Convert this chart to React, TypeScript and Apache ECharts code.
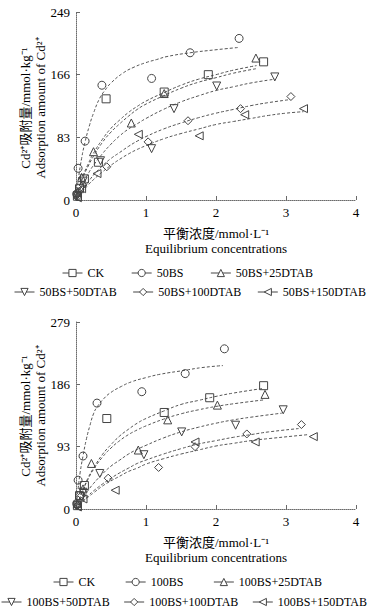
import React, { useEffect, useRef } from 'react';
import * as echarts from 'echarts';

const FONT = '"Liberation Serif", "Times New Roman", "Noto Sans CJK SC", serif';

// axes
const X_MAX = 4;
const X_STEP = 1;
const TOP_Y_MAX = 249;
const TOP_Y_STEP = 83;
const BOT_Y_MAX = 279;
const BOT_Y_STEP = 93;

const xAxisNameCn = '平衡浓度/mmol·L⁻¹';
const xAxisNameEn = 'Equilibrium concentrations';
const yAxisNameCn = 'Cd²⁺吸附量/mmol·kg⁻¹';
const yAxisNameEn = 'Adsorption amount of Cd²⁺';

// series names
const topNames = ['CK', '50BS', '50BS+25DTAB', '50BS+50DTAB', '50BS+100DTAB', '50BS+150DTAB'];
const botNames = ['CK', '100BS', '100BS+25DTAB', '100BS+50DTAB', '100BS+100DTAB', '100BS+150DTAB'];
const symbolTypes = ['rect', 'circle', 'triangle', 'triangle', 'diamond', 'triangle'];
const symbolRotates = [0, 0, 0, 180, 0, 90];

// ---- top chart: measured points [C, q]
const topCK = [[0.02, 5], [0.05, 15], [0.12, 28], [0.32, 50], [0.43, 134], [1.26, 143], [1.89, 166], [2.68, 183]];
const top50BS = [[0.01, 8], [0.03, 42], [0.13, 78], [0.37, 152], [1.08, 161], [1.63, 195], [2.33, 214]];
const top25 = [[0.02, 10], [0.08, 30], [0.25, 64], [0.79, 102], [1.26, 141], [2.57, 188]];
const top50 = [[0.02, 6], [0.1, 25], [0.35, 52], [1.08, 68], [1.4, 121], [2.01, 151], [2.84, 163]];
const top100 = [[0.02, 4], [0.1, 20], [0.44, 44], [1.03, 77], [1.6, 105], [2.35, 121], [3.07, 137]];
const top150 = [[0.02, 3], [0.08, 15], [0.3, 35], [0.89, 87], [1.76, 85], [2.41, 113], [3.25, 121]];

// ---- top chart: fitted curves
const fitTopCK = [[0, 0], [0.05, 18], [0.1, 32], [0.175, 48], [0.25, 62], [0.375, 80], [0.5, 95], [0.625, 106], [0.75, 116], [0.875, 124], [1, 131], [1.25, 142], [1.5, 152], [1.75, 160], [2, 166], [2.25, 172], [2.58, 178]];
const fitTop50BS = [[0, 0], [0.03, 25], [0.08, 55], [0.13, 77], [0.19, 98], [0.25, 115], [0.34, 135], [0.42, 146], [0.5, 155], [0.67, 168], [0.83, 176], [1, 182], [1.15, 186], [1.3, 190], [1.63, 195], [2, 199], [2.32, 202]];
const fitTop25 = [[0, 0], [0.05, 17], [0.1, 30], [0.175, 45], [0.25, 58], [0.375, 76], [0.5, 90], [0.625, 101], [0.75, 111], [0.875, 120], [1, 127], [1.25, 138], [1.5, 148], [1.75, 156], [2, 162], [2.25, 168], [2.58, 174]];
const fitTop50 = [[0, 0], [0.05, 12], [0.1, 22], [0.175, 35], [0.25, 46], [0.375, 61], [0.5, 74], [0.625, 85], [0.75, 94], [0.875, 101], [1, 108], [1.25, 120], [1.5, 130], [1.75, 138], [2, 145], [2.25, 150], [2.5, 155], [2.84, 160]];
const fitTop100 = [[0, 0], [0.05, 8], [0.1, 15], [0.175, 24], [0.25, 33], [0.375, 45], [0.5, 55], [0.625, 63], [0.75, 71], [0.875, 78], [1, 84], [1.25, 94], [1.5, 102], [1.75, 109], [2, 115], [2.25, 120], [2.5, 125], [2.75, 129], [3.06, 133]];
const fitTop150 = [[0, 0], [0.05, 6], [0.1, 12], [0.175, 20], [0.25, 27], [0.375, 37], [0.5, 46], [0.625, 54], [0.75, 61], [0.875, 67], [1, 72], [1.25, 81], [1.5, 88], [1.75, 94], [2, 100], [2.25, 104], [2.5, 108], [2.75, 112], [3, 115], [3.25, 117]];

// ---- bottom chart: measured points
const botCK = [[0.02, 5], [0.05, 20], [0.12, 35], [0.44, 135], [1.26, 144], [1.91, 166], [2.68, 184]];
const bot100BS = [[0.01, 8], [0.03, 43], [0.1, 79], [0.3, 158], [0.94, 175], [1.56, 202], [2.12, 239]];
const bot25 = [[0.02, 8], [0.1, 30], [0.22, 68], [0.89, 88], [1.31, 133], [2.02, 155], [2.7, 171]];
const bot50 = [[0.02, 6], [0.1, 25], [0.34, 53], [0.97, 81], [1.51, 115], [2.28, 125], [2.96, 148]];
const bot100 = [[0.02, 5], [0.08, 20], [0.46, 46], [1.18, 62], [1.7, 93], [2.44, 112], [3.22, 126]];
const bot150 = [[0.02, 3], [0.1, 15], [0.56, 28], [1.7, 100], [2.56, 100], [3.39, 108]];

// ---- bottom chart: fitted curves
const fitBotCK = [[0, 0], [0.05, 16], [0.1, 29], [0.175, 47], [0.25, 61], [0.375, 81], [0.5, 96], [0.625, 109], [0.75, 119], [0.875, 128], [1, 135], [1.25, 146], [1.5, 156], [1.75, 162], [2, 168], [2.25, 173], [2.68, 180]];
const fitBot100BS = [[0, 0], [0.03, 30], [0.06, 55], [0.1, 79], [0.15, 105], [0.2, 125], [0.25, 142], [0.3, 152], [0.4, 165], [0.5, 174], [0.65, 183], [0.8, 190], [1, 196], [1.2, 201], [1.56, 207], [1.8, 211], [2.1, 214]];
const fitBot25 = [[0, 0], [0.05, 15], [0.1, 28], [0.175, 45], [0.25, 59], [0.375, 77], [0.5, 91], [0.625, 102], [0.75, 111], [0.875, 118], [1, 124], [1.25, 134], [1.5, 142], [1.75, 148], [2, 153], [2.25, 157], [2.7, 163]];
const fitBot50 = [[0, 0], [0.05, 9], [0.1, 17], [0.175, 28], [0.25, 38], [0.375, 52], [0.5, 64], [0.625, 73], [0.75, 82], [0.875, 89], [1, 95], [1.25, 106], [1.5, 115], [1.75, 122], [2, 128], [2.25, 133], [2.5, 137], [2.94, 143]];
const fitBot100 = [[0, 0], [0.05, 6], [0.1, 12], [0.175, 20], [0.25, 27], [0.375, 37], [0.5, 46], [0.625, 54], [0.75, 61], [0.875, 68], [1, 73], [1.25, 82], [1.5, 90], [1.75, 97], [2, 102], [2.25, 107], [2.5, 111], [2.75, 115], [3.18, 120]];
const fitBot150 = [[0, 0], [0.05, 6], [0.1, 11], [0.175, 18], [0.25, 24], [0.375, 34], [0.5, 42], [0.625, 49], [0.75, 56], [0.875, 61], [1, 67], [1.25, 75], [1.5, 82], [1.75, 88], [2, 94], [2.25, 98], [2.5, 102], [2.75, 105], [3.32, 111]];

const topPoints = [topCK, top50BS, top25, top50, top100, top150];
const topFits = [fitTopCK, fitTop50BS, fitTop25, fitTop50, fitTop100, fitTop150];
const botPoints = [botCK, bot100BS, bot25, bot50, bot100, bot150];
const botFits = [fitBotCK, fitBot100BS, fitBot25, fitBot50, fitBot100, fitBot150];

const AXIS_COLOR = '#6a6a6a';
const MARK_COLOR = '#444';
const CURVE_COLOR = '#555';

function xAxisFor(gridIndex: number) {
  return {
    type: 'value', gridIndex, min: 0, max: X_MAX, interval: X_STEP,
    axisLine: { show: true, lineStyle: { color: AXIS_COLOR, width: 1, type: [1, 1] } },
    axisTick: { show: true, inside: true, length: 4, lineStyle: { color: AXIS_COLOR } },
    axisLabel: { color: '#000', fontSize: 13, fontFamily: FONT, margin: 6 },
    splitLine: { show: false },
    name: xAxisNameCn + '\n' + xAxisNameEn,
    nameLocation: 'middle', nameGap: 26,
    nameTextStyle: { color: '#000', fontSize: 13, fontFamily: FONT, lineHeight: 15 },
  };
}

function yAxisFor(gridIndex: number, max: number, step: number) {
  return {
    type: 'value', gridIndex, min: 0, max, interval: step,
    axisLine: { show: true, lineStyle: { color: AXIS_COLOR, width: 1, type: [1, 1] } },
    axisTick: { show: true, inside: true, length: 4, lineStyle: { color: AXIS_COLOR } },
    axisLabel: { color: '#000', fontSize: 13, fontFamily: FONT, margin: 6 },
    splitLine: { show: false },
  };
}

function buildSeries(names: string[], points: number[][][], fits: number[][][], axis: number) {
  const out: any[] = [];
  fits.forEach((f, i) => {
    out.push({
      type: 'line', name: 'fit-' + axis + '-' + i, data: f,
      xAxisIndex: axis, yAxisIndex: axis, smooth: 0.5,
      symbol: 'none', silent: true, z: 2,
      lineStyle: { color: CURVE_COLOR, width: 1, type: [3, 2] },
    });
  });
  points.forEach((p, i) => {
    out.push({
      type: 'line', name: names[i], data: p,
      xAxisIndex: axis, yAxisIndex: axis,
      symbol: symbolTypes[i], symbolRotate: symbolRotates[i], symbolSize: 8,
      showSymbol: true, showAllSymbol: true, silent: true, z: 3,
      lineStyle: { opacity: 0, width: 1 },
      itemStyle: { color: 'rgba(255,255,255,0)', borderColor: MARK_COLOR, borderWidth: 1 },
    });
  });
  return out;
}

const legendBase = {
  itemWidth: 20, itemHeight: 9, padding: 0, selectedMode: false,
  textStyle: { color: '#000', fontSize: 12, fontFamily: FONT },
  lineStyle: { color: MARK_COLOR, width: 1, opacity: 1, type: 'solid' },
  itemStyle: { color: '#fff', borderColor: MARK_COLOR, borderWidth: 1, opacity: 1 },
};

function yNames(cy: number) {
  return [
    {
      type: 'text', x: 25, y: cy, rotation: Math.PI / 2,
      style: { text: yAxisNameCn, fill: '#000', fontSize: 13, fontFamily: FONT, align: 'center', verticalAlign: 'middle' },
    },
    {
      type: 'text', x: 40, y: cy, rotation: Math.PI / 2,
      style: { text: yAxisNameEn, fill: '#000', fontSize: 13, fontFamily: FONT, align: 'center', verticalAlign: 'middle' },
    },
  ];
}

export default function App() {
  const ref = useRef<HTMLDivElement>(null);
  useEffect(() => {
    if (!ref.current) return;
    const chart = echarts.init(ref.current, undefined, { renderer: 'svg' });
    chart.setOption({
      animation: false,
      backgroundColor: '#fff',
      grid: [
        { left: 76, top: 12, width: 280, height: 188 },
        { left: 76, top: 322, width: 280, height: 187 },
      ],
      xAxis: [xAxisFor(0), xAxisFor(1)],
      yAxis: [yAxisFor(0, TOP_Y_MAX, TOP_Y_STEP), yAxisFor(1, BOT_Y_MAX, BOT_Y_STEP)],
      legend: [
        { ...legendBase, data: topNames.slice(0, 3), left: 62, top: 267, itemGap: 27 },
        { ...legendBase, data: topNames.slice(3), left: 14, top: 286, itemGap: 16 },
        { ...legendBase, data: botNames.slice(0, 3), left: 53, top: 576, itemGap: 30 },
        { ...legendBase, data: botNames.slice(3), left: 1, top: 596, itemGap: 14 },
      ],
      graphic: [...yNames(108), ...yNames(416)],
      series: [
        ...buildSeries(topNames, topPoints, topFits, 0),
        ...buildSeries(botNames, botPoints, botFits, 1),
      ],
    });
    return () => chart.dispose();
  }, []);
  return <div ref={ref} style={{ position: 'absolute', left: 0, top: 0, width: 381, height: 616 }} />;
}
